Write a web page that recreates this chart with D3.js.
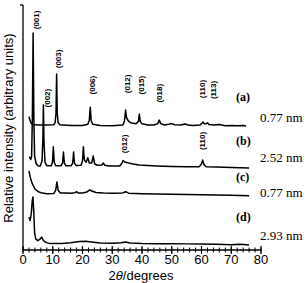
<!DOCTYPE html>
<html>
<head>
<meta charset="utf-8">
<script src="https://cdn.jsdelivr.net/npm/d3@7"></script>
<style>
  body { margin: 0; background: #fff; }
  svg { display: block; }
</style>
</head>
<body>
<script>
var width = 308;
var height = 283;

// diffraction patterns: [2theta, relative intensity above the trace baseline]
var traceA = [[2.0,3.4],[2.3,2.2],[2.7,0.8],[3.2,0.2],[5,0],[8,0],[10.3,0.1],[10.8,1.0],[11.1,5],[11.3,20.8],[11.5,5],[11.8,1.0],[12.4,0.1],[16,-0.2],[20,-0.2],[21.8,0.3],[22.3,2],[22.6,7.3],[22.9,2],[23.4,0.3],[26,-0.2],[30,-0.3],[33.5,0],[34.1,1.5],[34.5,6.1],[34.8,3],[35.5,1.5],[36.5,0.8],[38,0.5],[38.8,1.5],[39.1,4.5],[39.4,1.5],[40,0.5],[42,0],[44,0],[45.3,0.6],[45.8,2.0],[46.3,0.6],[47.5,0],[49,0.3],[50,0.6],[51,0.1],[53,0],[54.5,0.4],[55.5,0],[57,-0.2],[59.5,0],[60.2,0.8],[60.5,1.3],[60.9,0.5],[61.5,0.5],[62,0.9],[62.5,0.2],[64,0],[66,0.2],[68,-0.3],[70,-0.2],[72,-0.3],[74,-0.2],[75,-0.4]];
var traceB = [[2.2,3.8],[2.6,2.6],[2.9,4],[3.15,20],[3.4,54.3],[3.65,20],[3.9,4],[4.4,1],[5,0.1],[5.8,0],[6.4,2],[6.7,12],[6.85,24.9],[7.05,10],[7.4,1.5],[8,0.1],[9.5,0.1],[9.9,1.5],[10.2,7.8],[10.5,1.5],[11,0.1],[12.8,0.1],[13.3,1.2],[13.6,5.7],[13.9,1.2],[14.4,0.1],[16.2,0.1],[16.7,1.2],[17.0,5.7],[17.3,1.2],[17.8,0.2],[19.5,0.3],[20.0,2],[20.3,7.8],[20.6,2.5],[21.2,1.5],[21.8,3.3],[22.3,1.2],[23.1,1.2],[23.6,4.1],[24.1,0.8],[25,0.3],[26.5,0.4],[27,1.2],[27.5,0.3],[29,0],[32.5,0],[33.2,1],[33.6,2.2],[34.2,1.6],[35.5,1.2],[37,0.8],[39,0.4],[42,0.2],[45,0],[50,-0.2],[55,-0.3],[59.2,-0.3],[60,0.8],[60.4,2.4],[60.8,0.6],[61.6,-0.3],[65,-0.4],[70,-0.6],[76,-0.8]];
var traceC = [[2.0,9.4],[2.4,7],[3,4.5],[4,2],[5,1],[6,0.5],[8,0.1],[10.4,0.2],[11,1.5],[11.4,4.9],[11.8,1.5],[12.5,0.4],[14,0.4],[16,0.3],[17.5,0.5],[18,0.9],[18.5,0.4],[20,0.4],[21.5,0.8],[22.4,1.6],[23.2,1.2],[24.5,0.6],[27,0.4],[30,0.3],[33.5,0.4],[34.5,0.9],[35.5,0.3],[40,0.1],[45,0],[50,-0.1],[55,-0.2],[60,-0.3],[65,-0.5],[70,-0.6],[76,-0.8]];
var traceD = [[2.0,11.4],[2.4,10],[2.8,13],[3.1,18],[3.35,19.6],[3.6,14],[3.9,5],[4.3,2.5],[5,1.8],[5.8,2.5],[6.3,3.3],[6.8,2],[7.5,1.2],[8.5,0.8],[10,0.7],[13,0.7],[16,1.0],[19,1.5],[21,1.6],[23,1.3],[26,0.9],[30,0.8],[33,1.0],[34.5,1.3],[36,0.9],[40,0.7],[45,0.6],[50,0.6],[55,0.5],[60,0.4],[65,0.3],[70,0.1],[73,0.3],[76,0]];

var traces = [traceA, traceB, traceC, traceD];
var offsets = [51.0, 34.3, 22.9, 2.0];           // vertical stacking offsets
var sampleNames = ["(a)", "(b)", "(c)", "(d)"];
var spacings = ["0.77 nm", "2.52 nm", "0.77 nm", "2.93 nm"];
var nameLevels = [60.8, 42.9, 28.2, 11.8];
var spacingLevels = [52.2, 35.9, 21.6, 4.1];

// Miller index labels: text, 2theta, height
var peakText = ["(001)", "(002)", "(003)", "(006)", "(012)", "(015)", "(018)", "(110)", "(113)", "(012)", "(110)"];
var peakPos = [4.7, 8.1, 11.8, 23.2, 35, 39.7, 46, 60.2, 64.2, 34, 60.5];
var peakLevel = [93.9, 62, 78, 67.3, 67.8, 67.3, 64, 65.7, 65.3, 43.3, 44.5];

var xTicks = [0, 10, 20, 30, 40, 50, 60, 70, 80];

var svg = d3.select("body").append("svg").attr("width", width).attr("height", height);

var x = d3.scaleLinear().domain([0, 80]).range([23, 261]);
var y = d3.scaleLinear().domain([0, 100]).range([250, 5]);

var line = d3.line()
    .x(function (d) { return x(d[0]); })
    .y(function (d) { return y(d[1]); });

traces.forEach(function (t, i) {
    svg.append("path")
        .datum(t.map(function (p) { return [p[0], p[1] + offsets[i]]; }))
        .attr("d", line)
        .attr("fill", "none")
        .attr("stroke", "#000")
        .attr("stroke-width", 1.5)
        .attr("stroke-linejoin", "round");
});

// axes
svg.append("line").attr("x1", x(0)).attr("x2", x(0)).attr("y1", y(100)).attr("y2", y(0))
    .attr("stroke", "#000").attr("stroke-width", 1.3);
svg.append("line").attr("x1", x(0) - 3).attr("x2", x(0)).attr("y1", y(100)).attr("y2", y(100))
    .attr("stroke", "#000").attr("stroke-width", 1.3);
svg.append("line").attr("x1", x(0)).attr("x2", x(80)).attr("y1", y(0)).attr("y2", y(0))
    .attr("stroke", "#000").attr("stroke-width", 1.3);

svg.selectAll("line.minor").data(d3.range(0, 81, 2)).enter().append("line")
    .attr("class", "minor")
    .attr("x1", function (d) { return x(d); }).attr("x2", function (d) { return x(d); })
    .attr("y1", y(0) - 2.5).attr("y2", y(0) + 2.5)
    .attr("stroke", "#000").attr("stroke-width", 1);

svg.selectAll("line.major").data(xTicks).enter().append("line")
    .attr("class", "major")
    .attr("x1", function (d) { return x(d); }).attr("x2", function (d) { return x(d); })
    .attr("y1", y(0) - 4).attr("y2", y(0) + 4)
    .attr("stroke", "#000").attr("stroke-width", 1.2);

svg.selectAll("text.tick").data(xTicks).enter().append("text")
    .attr("class", "tick")
    .text(function (d) { return d; })
    .attr("x", function (d) { return x(d); })
    .attr("y", 264)
    .attr("text-anchor", "middle")
    .attr("font-family", "Arial, 'Liberation Sans', sans-serif")
    .attr("font-size", 13);

var xl = svg.append("text")
    .attr("x", 141).attr("y", 280)
    .attr("text-anchor", "middle")
    .attr("font-family", "Arial, 'Liberation Sans', sans-serif")
    .attr("font-size", 13);
xl.append("tspan").text("2");
xl.append("tspan").attr("font-style", "italic").text("θ");
xl.append("tspan").text("/degrees");

svg.append("text")
    .attr("transform", "translate(13,128) rotate(-90)")
    .attr("text-anchor", "middle")
    .attr("font-family", "Arial, 'Liberation Sans', sans-serif")
    .attr("font-size", 13)
    .text("Relative intensity (arbitrary units)");

// peak labels
svg.selectAll("text.peak").data(peakText).enter().append("text")
    .attr("class", "peak")
    .text(function (d) { return d; })
    .attr("transform", function (d, i) {
        return "translate(" + x(peakPos[i]) + "," + y(peakLevel[i]) + ") rotate(-90)";
    })
    .attr("text-anchor", "middle")
    .attr("dominant-baseline", "central")
    .attr("font-family", "Arial, 'Liberation Sans', sans-serif")
    .attr("font-weight", "bold")
    .attr("font-size", 8);

// sample labels on the right
svg.selectAll("text.name").data(sampleNames).enter().append("text")
    .attr("class", "name")
    .text(function (d) { return d; })
    .attr("x", x(71.6))
    .attr("y", function (d, i) { return y(nameLevels[i]); })
    .attr("font-family", "'Liberation Serif', 'Times New Roman', serif")
    .attr("font-weight", "bold")
    .attr("font-size", 12);

svg.selectAll("text.spacing").data(spacings).enter().append("text")
    .attr("class", "spacing")
    .text(function (d) { return d; })
    .attr("x", x(79.7))
    .attr("y", function (d, i) { return y(spacingLevels[i]); })
    .attr("font-family", "'Liberation Serif', 'Times New Roman', serif")
    .attr("font-size", 13);
</script>
</body>
</html>
